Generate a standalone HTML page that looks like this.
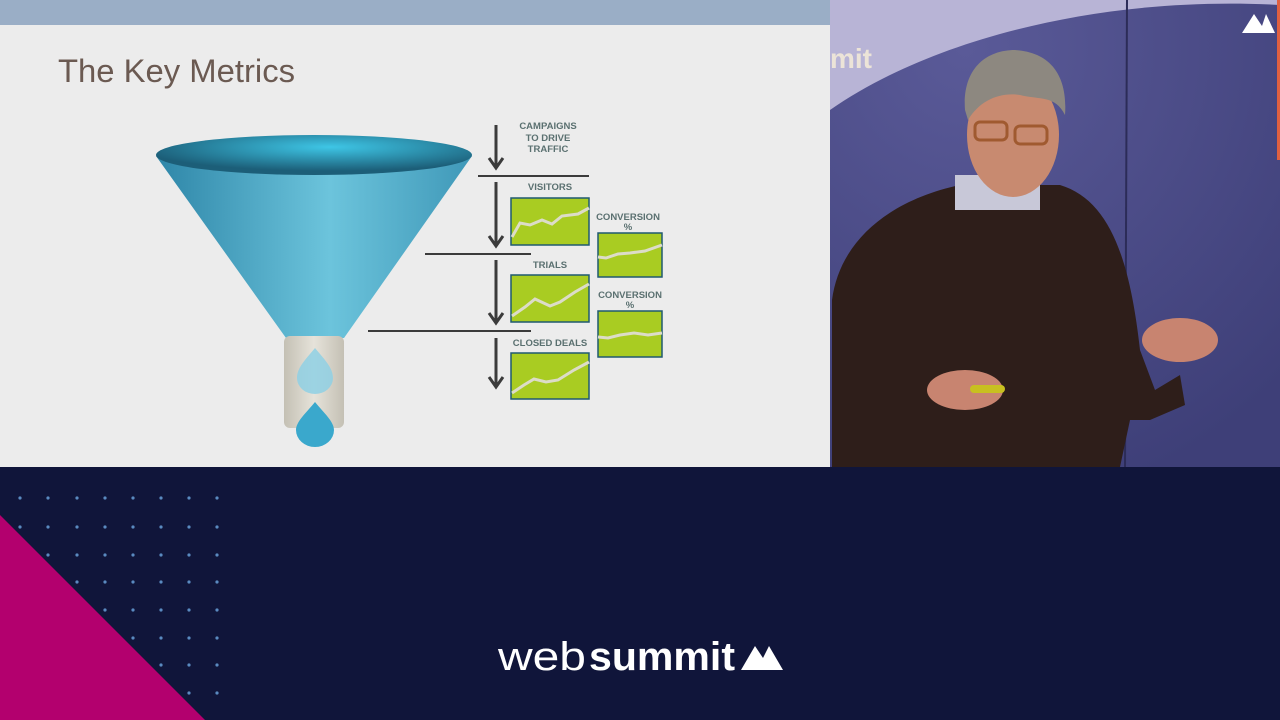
<!DOCTYPE html>
<html><head><meta charset="utf-8"><style>
html,body{margin:0;padding:0;width:1280px;height:720px;overflow:hidden;background:#10153a}
svg{display:block}
text{font-family:"Liberation Sans",Arial,sans-serif}
</style></head><body>
<svg width="1280" height="720" viewBox="0 0 1280 720" xmlns="http://www.w3.org/2000/svg">
<defs>
<linearGradient id="fun" x1="0" x2="1" y1="0" y2="0">
<stop offset="0" stop-color="#2e86a8"/><stop offset="0.55" stop-color="#6cc4dc"/><stop offset="1" stop-color="#3f98b8"/></linearGradient>
<radialGradient id="top" cx="0.55" cy="0.3" r="0.6"><stop offset="0" stop-color="#3ec6e6"/><stop offset="1" stop-color="#1c5e78"/></radialGradient>
<linearGradient id="tube" x1="0" x2="1"><stop offset="0" stop-color="#c4c0b4"/><stop offset="0.5" stop-color="#e6e3da"/><stop offset="1" stop-color="#c4c0b4"/></linearGradient>
<radialGradient id="bg" cx="0.3" cy="0.1" r="1"><stop offset="0" stop-color="#5a5a98"/><stop offset="1" stop-color="#3e3f78"/></radialGradient>
<clipPath id="vid"><rect x="830" y="0" width="450" height="467"/></clipPath>
</defs>
<rect x="0" y="0" width="830" height="467" fill="#ececec"/>
<rect x="0" y="0" width="830" height="25" fill="#9aaec6"/>
<text x="58" y="82" font-size="32" fill="#6b5a52" textLength="237" lengthAdjust="spacingAndGlyphs">The Key Metrics</text>
<path d="M156 156 L472 156 L344 338 L286 338 Z" fill="url(#fun)"/>
<ellipse cx="314" cy="155" rx="158" ry="20" fill="url(#top)"/>
<rect x="284" y="336" width="60" height="92" rx="6" fill="url(#tube)"/>
<path d="M315 348 C305 360 297 368 297 378 A18 16 0 0 0 333 378 C333 368 325 360 315 348Z" fill="#8fd0e4" opacity="0.85"/>
<path d="M315 402 C305 414 296 422 296 430 A19 17 0 0 0 334 430 C334 422 325 414 315 402Z" fill="#3aa8cc"/>
<g stroke="#3b3b3b" stroke-width="2">
<line x1="478" y1="176" x2="589" y2="176"/>
<line x1="425" y1="254" x2="531" y2="254"/>
<line x1="368" y1="331" x2="531" y2="331"/>
</g>
<g stroke="#3b3b3b" stroke-width="3" fill="none">
<line x1="496" y1="125" x2="496" y2="167"/><path d="M489 158 L496 168 L503 158"/>
<line x1="496" y1="182" x2="496" y2="245"/><path d="M489 236 L496 246 L503 236"/>
<line x1="496" y1="260" x2="496" y2="322"/><path d="M489 313 L496 323 L503 313"/>
<line x1="496" y1="338" x2="496" y2="386"/><path d="M489 377 L496 387 L503 377"/>
</g>
<g font-size="9.5" font-weight="bold" fill="#5a7070" text-anchor="middle">
<text x="548" y="129">CAMPAIGNS</text><text x="548" y="141">TO DRIVE</text><text x="548" y="152">TRAFFIC</text>
<text x="550" y="190">VISITORS</text>
<text x="550" y="268">TRIALS</text>
<text x="550" y="346">CLOSED DEALS</text>
<text x="628" y="220">CONVERSION</text><text x="628" y="230">%</text>
<text x="630" y="298">CONVERSION</text><text x="630" y="308">%</text>
</g>
<g fill="#a9cc22" stroke="#1f5a70" stroke-width="1.5">
<rect x="511" y="198" width="78" height="47"/>
<rect x="511" y="275" width="78" height="47"/>
<rect x="511" y="353" width="78" height="46"/>
<rect x="598" y="233" width="64" height="44"/>
<rect x="598" y="311" width="64" height="46"/>
</g>
<g fill="none" stroke="#dcdcc8" stroke-width="3">
<path d="M512 237 L520 223 L530 225 L542 220 L552 224 L562 216 L578 214 L589 208"/>
<path d="M512 316 L525 307 L535 299 L550 306 L560 302 L575 292 L589 284"/>
<path d="M512 393 L524 385 L534 379 L546 382 L558 380 L574 370 L589 362"/>
<path d="M598 257 L606 258 L618 254 L630 253 L645 251 L662 245"/>
<path d="M598 337 L608 338 L620 335 L634 333 L648 335 L662 333"/>
</g>
<g clip-path="url(#vid)">
<rect x="830" y="0" width="450" height="467" fill="url(#bg)"/>
<path d="M830 0 L1280 0 L1280 5 C1100 -5 930 40 830 110 Z" fill="#b8b4d6"/>
<text x="830" y="68" font-size="28" font-weight="bold" fill="#ece4d8">mit</text>
<line x1="1127" y1="0" x2="1125" y2="467" stroke="#2c2c58" stroke-width="2"/>
<rect x="1277" y="0" width="3" height="160" fill="#e06040"/>
<path d="M1242 33 L1254 14 L1262 26 L1266 14 L1275 33 Z" fill="#fff"/>
<path d="M832 300 C840 240 890 200 960 185 L1060 185 C1110 200 1130 260 1140 350 L1155 390 L1180 375 L1185 405 L1150 420 L1130 420 L1120 467 L832 467 Z" fill="#2e1e1a"/>
<path d="M955 175 L1040 175 L1040 210 L955 210 Z" fill="#c8c8d8"/>
<ellipse cx="1013" cy="135" rx="46" ry="62" fill="#c88a70"/>
<path d="M965 110 C962 70 985 50 1015 50 C1050 52 1068 75 1065 115 C1055 95 1040 100 1020 95 C1000 92 980 100 968 120 Z" fill="#8d8880"/>
<rect x="975" y="122" width="32" height="18" rx="5" fill="none" stroke="#a05a30" stroke-width="3"/>
<rect x="1015" y="126" width="32" height="18" rx="5" fill="none" stroke="#a05a30" stroke-width="3"/>
<ellipse cx="1180" cy="340" rx="38" ry="22" fill="#c88470"/>
<ellipse cx="965" cy="390" rx="38" ry="20" fill="#c88470"/>
<rect x="970" y="385" width="35" height="8" rx="4" fill="#c8c020"/>
</g>
<rect x="0" y="467" width="1280" height="253" fill="#10153a"/>
<path d="M0 515 L205 720 L0 720 Z" fill="#b3006e"/>
<g fill="#5a8ac0">
<circle cx="20" cy="498" r="1.6"/><circle cx="48" cy="498" r="1.6"/><circle cx="77" cy="498" r="1.6"/><circle cx="105" cy="498" r="1.6"/><circle cx="133" cy="498" r="1.6"/><circle cx="161" cy="498" r="1.6"/><circle cx="189" cy="498" r="1.6"/><circle cx="217" cy="498" r="1.6"/>
<circle cx="20" cy="527" r="1.6"/><circle cx="48" cy="527" r="1.6"/><circle cx="77" cy="527" r="1.6"/><circle cx="105" cy="527" r="1.6"/><circle cx="133" cy="527" r="1.6"/><circle cx="161" cy="527" r="1.6"/><circle cx="189" cy="527" r="1.6"/><circle cx="217" cy="527" r="1.6"/>
<circle cx="48" cy="555" r="1.6"/><circle cx="77" cy="555" r="1.6"/><circle cx="105" cy="555" r="1.6"/><circle cx="133" cy="555" r="1.6"/><circle cx="161" cy="555" r="1.6"/><circle cx="189" cy="555" r="1.6"/><circle cx="217" cy="555" r="1.6"/>
<circle cx="77" cy="582" r="1.6"/><circle cx="105" cy="582" r="1.6"/><circle cx="133" cy="582" r="1.6"/><circle cx="161" cy="582" r="1.6"/><circle cx="189" cy="582" r="1.6"/><circle cx="217" cy="582" r="1.6"/>
<circle cx="105" cy="610" r="1.6"/><circle cx="133" cy="610" r="1.6"/><circle cx="161" cy="610" r="1.6"/><circle cx="189" cy="610" r="1.6"/><circle cx="217" cy="610" r="1.6"/>
<circle cx="133" cy="638" r="1.6"/><circle cx="161" cy="638" r="1.6"/><circle cx="189" cy="638" r="1.6"/><circle cx="217" cy="638" r="1.6"/>
<circle cx="161" cy="665" r="1.6"/><circle cx="189" cy="665" r="1.6"/><circle cx="217" cy="665" r="1.6"/>
<circle cx="189" cy="693" r="1.6"/><circle cx="217" cy="693" r="1.6"/>
</g>
<text x="498" y="670" font-size="40" fill="#fff" textLength="88" lengthAdjust="spacingAndGlyphs">web</text>
<text x="589" y="670" font-size="40" fill="#fff" font-weight="bold" textLength="146" lengthAdjust="spacingAndGlyphs">summit</text>
<path d="M741 670 L755 646 L763 658 L769 646 L783 670 Z" fill="#fff"/>
</svg>
</body></html>
